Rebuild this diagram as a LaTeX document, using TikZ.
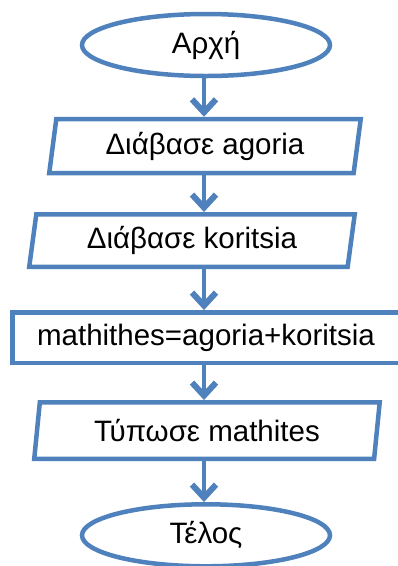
\documentclass[tikz,border=0pt]{standalone}
\usepackage{fontspec}
\setmainfont{Liberation Sans}
\usepackage{xcolor}
\usepackage{tikz}
\usetikzlibrary{arrows.meta, positioning, shapes.geometric}
\definecolor{flowblue}{HTML}{4F81BD}

\begin{document}
\begin{tikzpicture}[
  x=1pt, y=1pt,
  font=\fontsize{29.5}{34}\selectfont,
  terminal/.style={draw=flowblue, line width=4.5pt, ellipse, minimum width=248pt, minimum height=62pt, inner sep=0pt},
  io/.style={draw=flowblue, line width=4.5pt, trapezium, trapezium left angle=76, trapezium right angle=104, trapezium stretches body, inner sep=0pt},
  process/.style={draw=flowblue, line width=4.5pt, rectangle, inner sep=0pt},
  arrow/.style={-{Straight Barb[length=13pt, width=24pt, line width=6pt]}, line width=4.5pt, color=flowblue}
]
\useasboundingbox (0,0) rectangle (398,-566);
\node[terminal] (start) at (206,-45) {Αρχή};
\node[io, minimum width=311.5pt, minimum height=54pt, below=38.5pt of start, xshift=-1pt] (readboys) {Διάβασε agoria};
\node[io, minimum width=325.5pt, minimum height=52.5pt, below=36.75pt of readboys, xshift=-13pt] (readgirls) {Διάβασε koritsia};
\node[process, minimum width=387.5pt, minimum height=50.5pt, below=41pt of readgirls, xshift=14pt] (sum) {mathithes=agoria+koritsia};
\node[io, minimum width=345.5pt, minimum height=56.5pt, below=35pt of sum, xshift=1pt] (print) {Τύπωσε mathites};
\node[terminal, below=41pt of print, xshift=-1pt] (stop) {Τέλος};
\coordinate (spine) at (204,0);
\draw[arrow] (start.south -| spine) -- (readboys.north -| spine);
\draw[arrow] (readboys.south -| spine) -- (readgirls.north -| spine);
\draw[arrow] (readgirls.south -| spine) -- (sum.north -| spine);
\draw[arrow] (sum.south -| spine) -- (print.north -| spine);
\draw[arrow] (print.south -| spine) -- (stop.north -| spine);
\end{tikzpicture}
\end{document}
